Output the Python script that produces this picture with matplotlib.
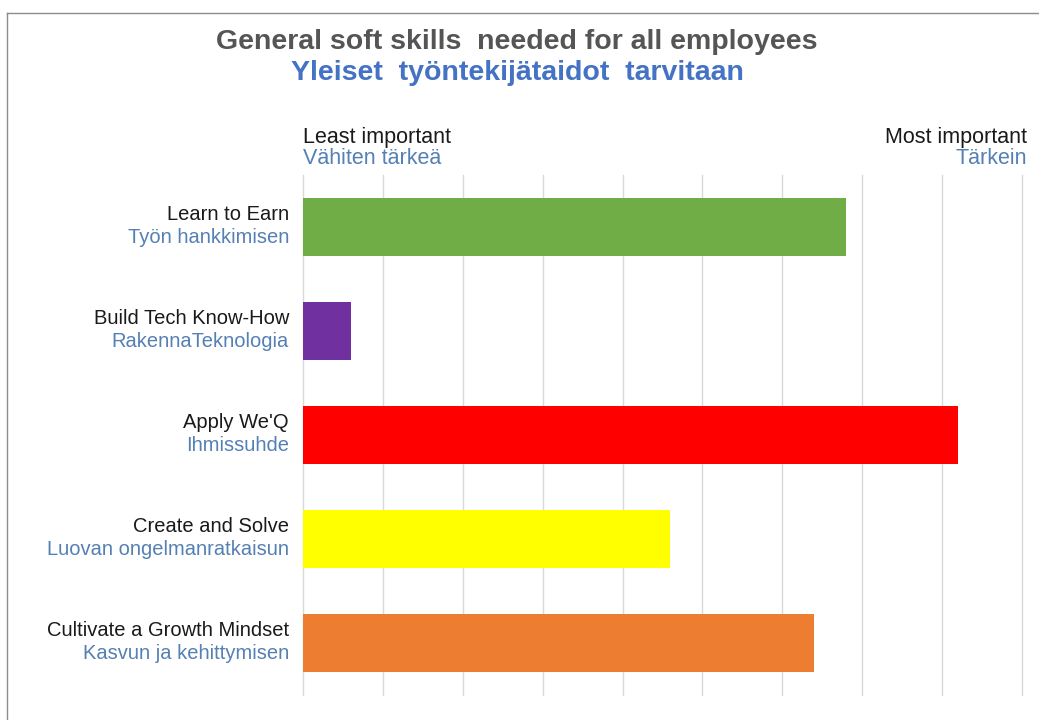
import matplotlib.pyplot as plt
from matplotlib.lines import Line2D

skills_en = ["Learn to Earn", "Build Tech Know-How", "Apply We'Q",
             "Create and Solve", "Cultivate a Growth Mindset"]
skills_fi = ["Työn hankkimisen", "RakennaTeknologia", "Ihmissuhde",
             "Luovan ongelmanratkaisun", "Kasvun ja kehittymisen"]
importance = [6.8, 0.6, 8.2, 4.6, 6.4]
bar_colors = ["#70ad47", "#7030a0", "#ff0000", "#ffff00", "#ed7d31"]

plt.rcParams['font.family'] = ['Liberation Sans', 'DejaVu Sans']
blue = "#5480b4"

fig = plt.figure(figsize=(10.39, 7.2), dpi=100)
ax = fig.add_axes([0.2916, 0.035, 0.692, 0.722])

y = list(range(len(skills_en)))
ax.barh(y, importance, height=0.56, color=bar_colors, zorder=3)
ax.set_xlim(0, 9)
ax.set_ylim(4.5, -0.5)
ax.set_xticks(range(10))
ax.grid(axis='x', color='#d9d9d9', linewidth=1, zorder=0)
for gl in ax.get_xgridlines():
    gl.set_clip_on(False)
ax.tick_params(length=0, labelbottom=False, labelleft=False)
for s in ax.spines.values():
    s.set_visible(False)

# two-language category labels
for i in y:
    ax.annotate(skills_en[i], xy=(0, i), xytext=(-10, 2), textcoords='offset points',
                ha='right', va='bottom', fontsize=14.5, color='#1a1a1a')
    ax.annotate(skills_fi[i], xy=(0, i), xytext=(-10, -1), textcoords='offset points',
                ha='right', va='top', fontsize=14.5, color=blue)

# scale end labels
fig.text(303 / 1039, 1 - 138 / 720, "Least important", ha='left', va='center',
         fontsize=15.5, color='#1a1a1a')
fig.text(303 / 1039, 1 - 159 / 720, "Vähiten tärkeä", ha='left', va='center',
         fontsize=15.5, color=blue)
fig.text(1027 / 1039, 1 - 138 / 720, "Most important", ha='right', va='center',
         fontsize=15.5, color='#1a1a1a')
fig.text(1027 / 1039, 1 - 159 / 720, "Tärkein", ha='right', va='center',
         fontsize=15.5, color=blue)

# titles
fig.text(517 / 1039, 1 - 42 / 720, "General soft skills  needed for all employees",
         ha='center', va='center', fontsize=20.5, fontweight='bold', color='#555555')
fig.text(517 / 1039, 1 - 73 / 720, "Yleiset  työntekijätaidot  tarvitaan",
         ha='center', va='center', fontsize=20.5, fontweight='bold', color='#4472c4')

# outer frame on top and left
fig.add_artist(Line2D([7 / 1039, 1], [1 - 13 / 720, 1 - 13 / 720], color='#8c8c8c', lw=1))
fig.add_artist(Line2D([7 / 1039, 7 / 1039], [0, 1 - 13 / 720], color='#8c8c8c', lw=1))

fig.savefig("out.png", dpi=100)
